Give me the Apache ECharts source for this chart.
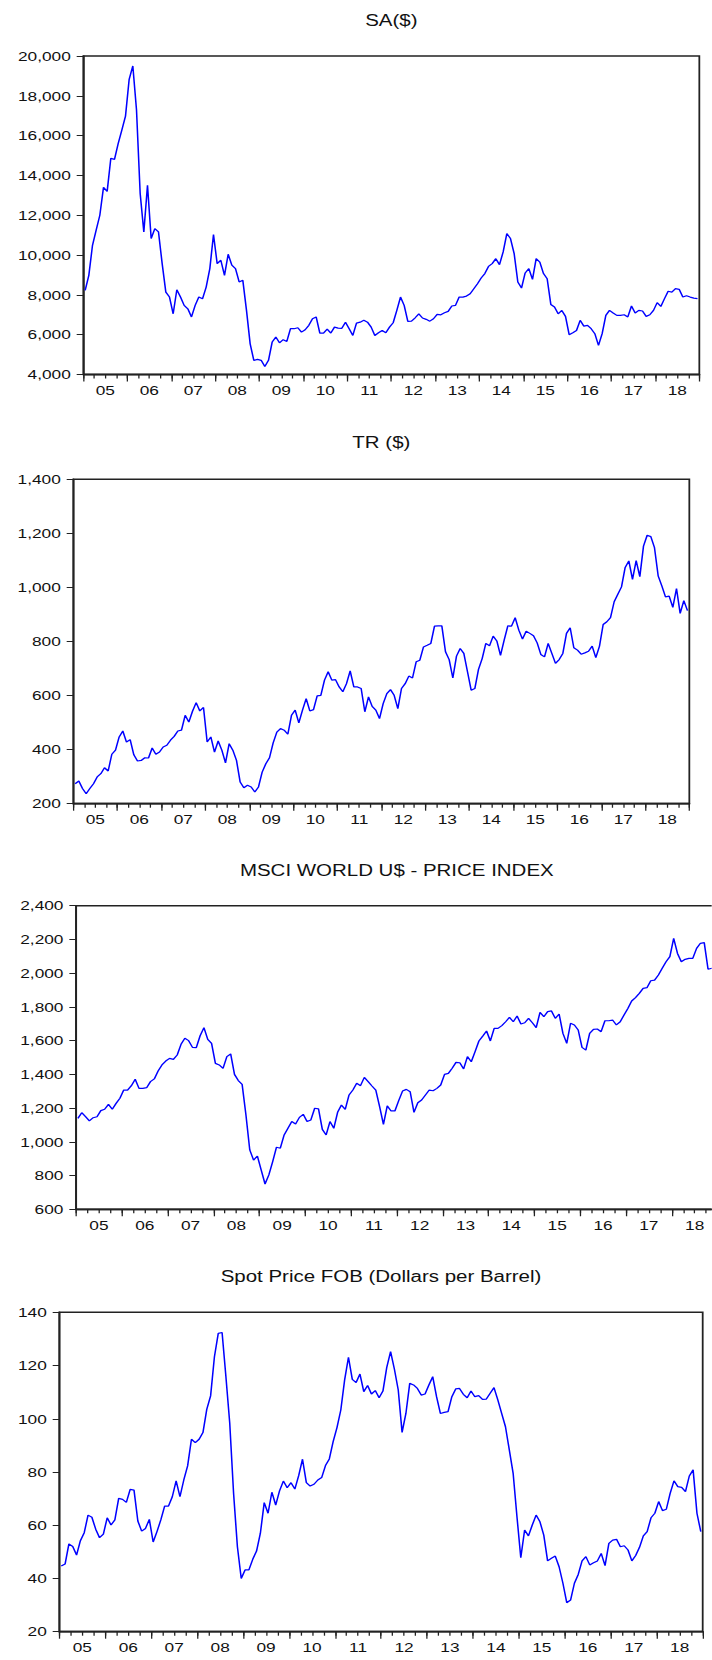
<!DOCTYPE html>
<html>
<head>
<meta charset="utf-8">
<script src="https://cdn.jsdelivr.net/npm/echarts/dist/echarts.min.js"></script>
<style>
html,body{margin:0;padding:0;background:#fff;overflow:hidden;}
#wrap{width:712px;height:1660px;overflow:hidden;position:relative;background:#fff;}
#chart{width:556.25px;height:1660px;transform:scaleX(1.28);transform-origin:0 0;}
</style>
</head>
<body>
<div id="wrap"><div id="chart"></div></div>
<script>
// ---------------- data ----------------
const years = [2005,2006,2007,2008,2009,2010,2011,2012,2013,2014,2015,2016,2017,2018];
const yearLabels = ['05','06','07','08','09','10','11','12','13','14','15','16','17','18'];
const monthNames = ['01','02','03','04','05','06','07','08','09','10','11','12'];

const saValues = [
  8230, 8980,10490,11250,12000,13400,13200,14860,14810,15600,16280,16980,
 18830,19500,17300,13100,11160,13510,10830,11330,11160, 9570, 8140, 7890,
  7050, 8260, 7890, 7470, 7300, 6890, 7470, 7890, 7800, 8390, 9320,11030,
  9570, 9740, 8980,10040, 9490, 9320, 8650, 8730, 7220, 5540, 4710, 4760,
  4710, 4400, 4710, 5630, 5880, 5590, 5750, 5660, 6300, 6300, 6350, 6130,
  6250, 6470, 6800, 6890, 6080, 6080, 6280, 6080, 6380, 6330, 6320, 6630,
  6300, 5960, 6580, 6630, 6720, 6630, 6380, 5960, 6100, 6210, 6100, 6380,
  6600, 7220, 7890, 7470, 6670, 6680, 6850, 7050, 6840, 6770, 6680, 6800,
  7020, 7000, 7100, 7170, 7440, 7470, 7890, 7890, 7940, 8060, 8310, 8560,
  8850, 9070, 9430, 9570, 9820, 9520,10160,11080,10830,10070, 8650, 8340,
  9100, 9320, 8780, 9820, 9650, 9070, 8810, 7520, 7390, 7050, 7220, 6920,
  6000, 6100, 6210, 6720, 6430, 6470, 6300, 6050, 5460, 6050, 6970, 7220,
  7090, 6970, 6970, 7000, 6890, 7440, 7090, 7220, 7190, 6920, 7000, 7220,
  7610, 7420, 7810, 8180, 8140, 8310, 8280, 7890, 7960, 7890, 7840, 7810
];

const trValues = [
  274, 284, 256, 237, 256, 274, 299, 311, 333, 321, 383, 398,
  447, 469, 428, 437, 381, 358, 360, 370, 369, 406, 383, 391,
  410, 416, 435, 449, 469, 472, 527, 502, 542, 574, 543, 556,
  428, 447, 391, 432, 398, 351, 422, 398, 360, 280, 259, 268,
  262, 243, 262, 317, 348, 370, 425, 465, 478, 472, 457, 527,
  546, 499, 546, 589, 543, 548, 599, 601, 657, 688, 657, 659,
  632, 614, 644, 691, 632, 632, 626, 540, 595, 560, 546, 515,
  570, 607, 622, 601, 552, 626, 644, 672, 665, 725, 731, 780,
  786, 793, 857, 858, 858, 762, 733, 665, 746, 774, 756, 688,
  620, 626, 697, 737, 793, 784, 820, 802, 749, 805, 858, 857,
  888, 842, 809, 838, 830, 821, 795, 752, 743, 793, 756, 719,
  733, 756, 830, 851, 777, 768, 753, 758, 764, 783, 740, 783,
  863, 873, 888, 947, 975,1002,1074,1098,1030,1099,1040,1153,
 1193,1188,1147,1043,1006, 965, 968, 926, 996, 904, 951, 914
];

const msciValues = [
 1139,1173,1149,1124,1143,1149,1185,1193,1222,1193,1228,1258,
 1307,1307,1333,1371,1317,1317,1321,1357,1373,1420,1456,1479,
 1495,1489,1515,1578,1614,1600,1560,1558,1629,1677,1608,1584,
 1465,1456,1436,1505,1521,1400,1363,1341,1159, 952, 892, 916,
  833, 750, 804, 883, 968, 962,1041,1080,1120,1106,1145,1163,
 1120,1130,1199,1195,1074,1041,1120,1080,1175,1218,1193,1278,
 1307,1347,1333,1382,1357,1331,1307,1209,1104,1213,1183,1183,
 1244,1301,1311,1297,1175,1232,1248,1278,1307,1303,1317,1337,
 1400,1406,1436,1471,1469,1432,1505,1475,1535,1598,1627,1657,
 1598,1673,1673,1689,1712,1738,1712,1746,1699,1706,1732,1706,
 1677,1768,1742,1772,1776,1732,1758,1643,1584,1703,1693,1663,
 1560,1544,1643,1667,1669,1653,1718,1718,1722,1693,1712,1752,
 1791,1835,1855,1880,1910,1914,1955,1959,1989,2029,2068,2098,
 2206,2117,2068,2082,2088,2088,2147,2177,2181,2023,2029,2040
];

const oilValues = [
  44.7, 45.4, 53.0, 52.0, 48.8, 54.2, 57.2, 63.8, 63.0, 58.5, 55.3, 56.7,
  62.8, 60.1, 62.0, 70.1, 69.7, 68.6, 73.5, 73.2, 61.6, 57.8, 58.8, 62.2,
  53.7, 57.6, 62.0, 67.2, 67.2, 70.7, 76.7, 70.7, 77.0, 82.3, 92.3, 91.0,
  92.3, 94.8,103.5,108.6,123.3,132.1,132.4,115.8, 98.3, 72.0, 51.9, 40.0,
  43.2, 43.2, 47.2, 50.3, 57.0, 68.5, 64.5, 72.4, 67.6, 72.9, 76.6, 74.1,
  76.0, 73.6, 78.6, 84.8, 76.0, 74.7, 75.4, 77.0, 77.9, 82.4, 84.9, 91.4,
  96.7,103.3,114.6,123.1,114.8,113.6,116.8,110.2,112.5,109.3,110.6,107.9,
 110.4,119.3,125.2,118.6,110.8, 94.9,102.0,113.3,112.7,111.4,108.9,109.3,
 112.7,115.8,108.3,102.0,102.4,102.7,108.3,111.2,111.4,109.2,107.9,110.4,
 108.3,108.7,107.3,107.4,109.6,111.7,107.1,102.0, 97.0, 88.3, 79.5, 63.2,
  47.8, 58.2, 56.0, 60.1, 63.8, 61.3, 56.3, 46.6, 47.6, 48.4, 44.4, 38.2,
  30.9, 31.9, 38.2, 41.5, 46.6, 48.2, 45.1, 45.9, 46.6, 49.4, 44.8, 53.2,
  54.4, 54.7, 51.9, 52.3, 50.7, 46.6, 48.6, 51.7, 56.0, 57.6, 62.8, 64.5,
  68.9, 65.5, 66.0, 72.0, 76.7, 74.5, 74.2, 72.6, 78.5, 80.8, 64.5, 57.6
];

const titles = ['SA($)', 'TR ($)', 'MSCI WORLD U$ - PRICE INDEX', 'Spot Price FOB (Dollars per Barrel)'];
const yMins = [4000, 200, 600, 20];
const yMaxs = [20000, 1400, 2400, 140];
const yIntervals = [2000, 200, 200, 20];

// month categories
const months = [];
years.forEach(y => monthNames.forEach(m => months.push(y + '-' + m)));

// ---------------- layout (reference pixels) ----------------
const S = 1.28; // horizontal stretch of the reference
const layout = [
  {left: 83.33, right: 699.33, top: 56,    bottom: 374.5,  titleY: 21.5},
  {left: 73.33, right: 689.33, top: 479.3, bottom: 803.7,  titleY: 443.5},
  {left: 76.0,  right: 717.6,  top: 905.7, bottom: 1209.3, titleY: 871},
  {left: 59.33, right: 702.7,  top: 1312.3,bottom: 1631.7, titleY: 1277}
];
const seriesData = [saValues, trValues, msciValues, oilValues];

const FONT = "'Liberation Sans', Arial, Helvetica, sans-serif";
const INK = '#111';
const AX = '#222';

const option = {
  animation: false,
  backgroundColor: '#fff',
  title: [], grid: [], xAxis: [], yAxis: [], series: []
};

layout.forEach((L, k) => {
  const cx = (L.left + L.right) / 2;
  option.title.push({
    text: titles[k], left: cx / S, top: L.titleY - 9, textAlign: 'center', padding: 0,
    textStyle: {fontSize: 16, fontWeight: 'normal', color: INK, fontFamily: FONT}
  });
  option.grid.push({
    left: L.left / S, top: L.top, width: (L.right - L.left) / S, height: L.bottom - L.top,
    show: true, borderColor: AX, borderWidth: 1.4, backgroundColor: 'transparent',
    containLabel: false, outerBoundsMode: 'none'
  });
  // month axis (carries the data, quarterly minor ticks)
  option.xAxis.push({
    type: 'category', gridIndex: k, data: months, boundaryGap: true, position: 'bottom',
    axisLine: {show: true, lineStyle: {color: AX, width: 1.4}},
    axisTick: {show: true, interval: (i) => i % 3 === 0, length: 4, lineStyle: {color: AX, width: 1}},
    axisLabel: {show: false}, splitLine: {show: false}
  });
  // year axis (major ticks, centred labels)
  option.xAxis.push({
    type: 'category', gridIndex: k, data: yearLabels, boundaryGap: true, position: 'bottom',
    axisLine: {show: true, lineStyle: {color: AX, width: 1.4}},
    axisTick: {show: true, interval: 0, length: 7, lineStyle: {color: AX, width: 1}},
    axisLabel: {show: true, interval: 0, margin: 9, fontSize: 13.5, color: INK, fontFamily: FONT},
    splitLine: {show: false}
  });
  option.yAxis.push({
    type: 'value', gridIndex: k, min: yMins[k], max: yMaxs[k], interval: yIntervals[k],
    axisLine: {show: true, lineStyle: {color: AX, width: 1.4}},
    axisTick: {show: true, length: 5.2, lineStyle: {color: AX, width: 1}},
    axisLabel: {show: true, margin: 9.8, fontSize: 13.5, color: INK, fontFamily: FONT,
      padding: [0, 0, 5, 0], showMinLabel: true, showMaxLabel: true,
      formatter: v => Number(v).toLocaleString('en-US')},
    splitLine: {show: false}
  });
  option.series.push({
    type: 'line', xAxisIndex: 2 * k, yAxisIndex: k, data: seriesData[k],
    symbol: 'none', silent: true, clip: true,
    lineStyle: {color: '#0000ff', width: 1.2}
  });
});

const chart = echarts.init(document.getElementById('chart'), null, {renderer: 'svg'});
chart.setOption(option);
</script>
</body>
</html>
